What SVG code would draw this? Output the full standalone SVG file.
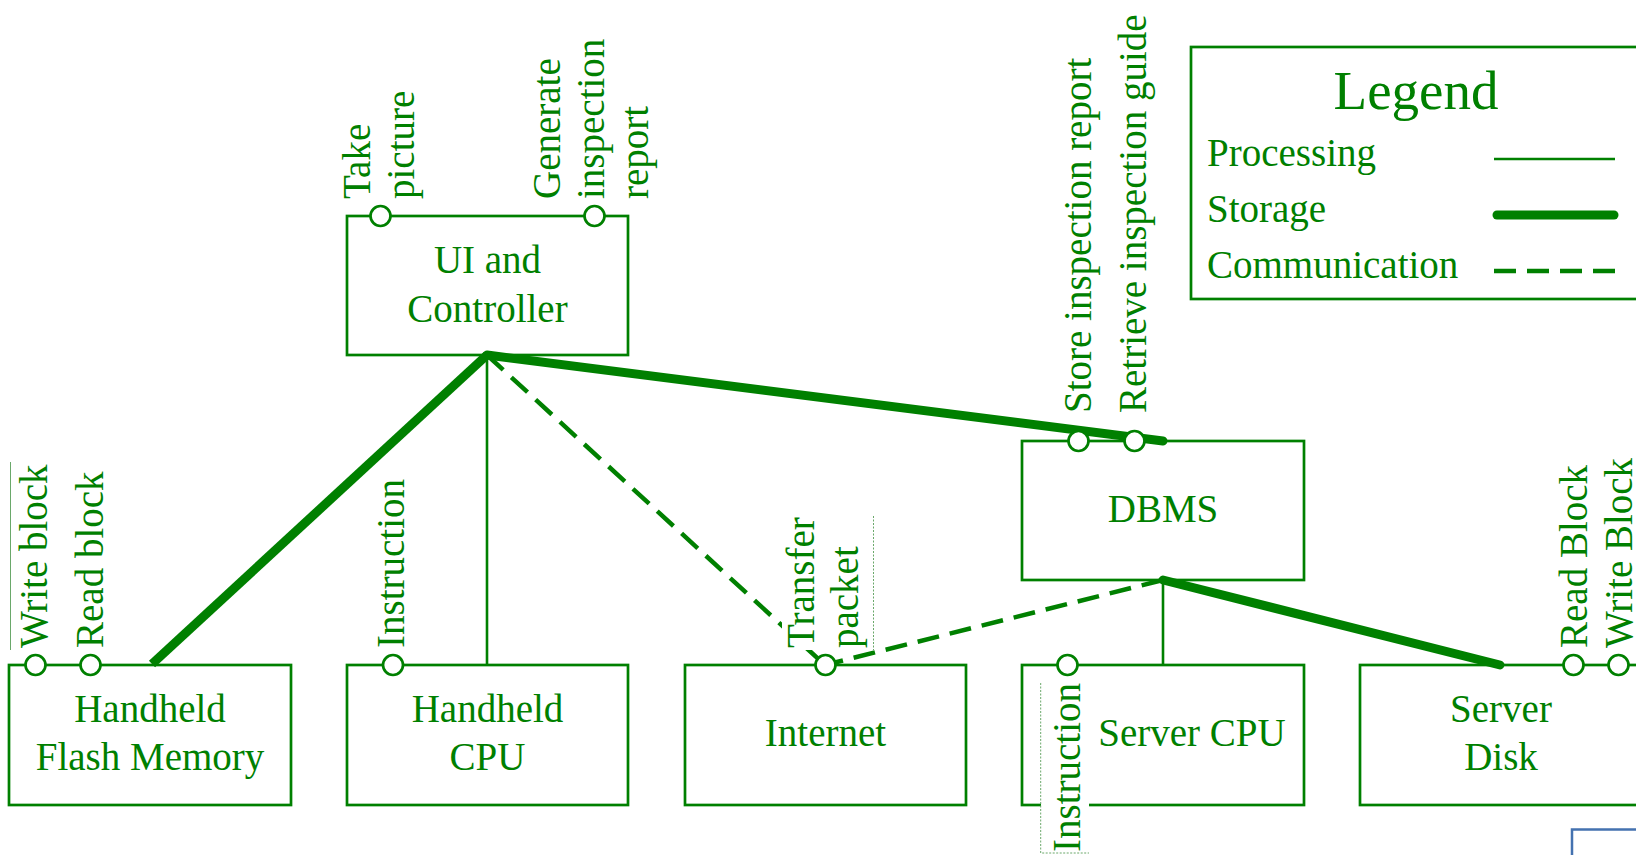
<svg xmlns="http://www.w3.org/2000/svg" width="1636" height="855" viewBox="0 0 1636 855">
<style>
text{font-family:"Liberation Serif","Times New Roman",serif;fill:#008000;font-size:39px}
.box{fill:#fff;stroke:#008000;stroke-width:2.7}
.lbl{text-anchor:middle}
.port{fill:#fff;stroke:#008000;stroke-width:2.7}
.proc{stroke:#008000;stroke-width:2.6;fill:none}
.stor{stroke:#008000;stroke-width:9;stroke-linecap:round;fill:none}
.comm{stroke:#008000;stroke-width:4.5;stroke-dasharray:22 11;fill:none}
.art{stroke:#6aa86a;stroke-width:1;fill:none}
.dot{stroke:#6aa86a;stroke-width:1;stroke-dasharray:2 1.5;fill:none}
</style>
<rect width="1636" height="855" fill="#fff"/>

<g id="legend">
<rect x="1191" y="47" width="470" height="252" fill="#fff" stroke="#008000" stroke-width="2.7"/>
<text x="1416" y="109" text-anchor="middle" style="font-size:55px">Legend</text>
<text x="1207" y="166">Processing</text>
<text x="1207" y="222">Storage</text>
<text x="1207" y="278">Communication</text>
<line class="proc" x1="1494" y1="159" x2="1615" y2="159"/>
<line class="stor" x1="1497" y1="215" x2="1614" y2="215"/>
<line class="comm" x1="1494" y1="271" x2="1616" y2="271"/>
</g>

<g id="ui-controller">
<rect class="box" x="347" y="216" width="281" height="139"/>
<text class="lbl" x="487.5" y="273">UI and</text>
<text class="lbl" x="487.5" y="321.5">Controller</text>
</g>

<g id="dbms">
<rect class="box" x="1022" y="441" width="282" height="139"/>
<text class="lbl" x="1163" y="521.5">DBMS</text>
</g>

<g id="handheld-flash">
<rect class="box" x="9" y="665" width="282" height="140"/>
<text class="lbl" x="150" y="721.5">Handheld</text>
<text class="lbl" x="150" y="770">Flash Memory</text>
</g>

<g id="handheld-cpu">
<rect class="box" x="347" y="665" width="281" height="140"/>
<text class="lbl" x="487.5" y="721.5">Handheld</text>
<text class="lbl" x="487.5" y="770">CPU</text>
</g>

<g id="internet">
<rect class="box" x="685" y="665" width="281" height="140"/>
<text class="lbl" x="825.5" y="745.5">Internet</text>
</g>

<g id="server-cpu">
<rect class="box" x="1022" y="665" width="282" height="140"/>
<text class="lbl" x="1192" y="745.5">Server CPU</text>
</g>

<g id="server-disk">
<rect class="box" x="1360" y="665" width="282" height="140"/>
<text class="lbl" x="1501" y="721.5">Server</text>
<text class="lbl" x="1501" y="770">Disk</text>
</g>

<g id="connectors">
<line x1="152" y1="664" x2="487" y2="355" stroke="#008000" stroke-width="9" stroke-linecap="butt"/>
<line class="stor" x1="487" y1="355" x2="1163" y2="441"/>
<line class="proc" x1="487" y1="355" x2="487" y2="665"/>
<line class="comm" x1="487" y1="355" x2="825" y2="665"/>
<line class="comm" x1="1163" y1="580" x2="825" y2="665"/>
<line class="proc" x1="1163" y1="580" x2="1163" y2="665"/>
<line class="stor" x1="1163" y1="580" x2="1500" y2="665"/>
</g>

<g id="ports">
<circle class="port" cx="380.5" cy="216" r="10"/>
<circle class="port" cx="594.5" cy="216" r="10"/>
<circle class="port" cx="1078.5" cy="441" r="10"/>
<circle class="port" cx="1134.5" cy="441" r="10"/>
<circle class="port" cx="35.5" cy="665" r="10"/>
<circle class="port" cx="90.5" cy="665" r="10"/>
<circle class="port" cx="393" cy="665" r="10"/>
<circle class="port" cx="825.5" cy="665" r="10"/>
<circle class="port" cx="1067.5" cy="665" r="10"/>
<circle class="port" cx="1573.5" cy="665" r="10"/>
<circle class="port" cx="1618.5" cy="665" r="10"/>
</g>

<g id="port-labels">
<text transform="translate(370,199) rotate(-90)"><tspan x="0" y="0">Take</tspan><tspan x="0" y="44">picture</tspan></text>
<text transform="translate(560,199) rotate(-90)"><tspan x="0" y="0">Generate</tspan><tspan x="0" y="44">inspection</tspan><tspan x="0" y="88">report</tspan></text>
<text transform="translate(1091,413) rotate(-90)">Store inspection report</text>
<text transform="translate(1146,413) rotate(-90)">Retrieve inspection guide</text>
<text transform="translate(46.5,648) rotate(-90)">Write block</text>
<text transform="translate(103,648) rotate(-90)">Read block</text>
<text transform="translate(404,648) rotate(-90)">Instruction</text>
<rect x="782" y="516" width="91" height="134" fill="#fff"/>
<text transform="translate(814,648) rotate(-90)"><tspan x="0" y="0">Transfer</tspan><tspan x="0" y="44">packet</tspan></text>
<text transform="translate(1587,648) rotate(-90)">Read Block</text>
<text transform="translate(1632,648) rotate(-90)">Write Block</text>
<rect x="1041" y="683" width="48" height="170" fill="#fff"/>
<text transform="translate(1080,852) rotate(-90)">Instruction</text>
<line class="art" x1="10.5" y1="462" x2="10.5" y2="650"/>
<line class="dot" x1="873.5" y1="516" x2="873.5" y2="650"/>
<path class="dot" d="M1040.7,683 V853 H1089"/>
</g>

<path d="M1572,855 V829.5 H1636" fill="none" stroke="#4472b0" stroke-width="2.5"/>
</svg>
